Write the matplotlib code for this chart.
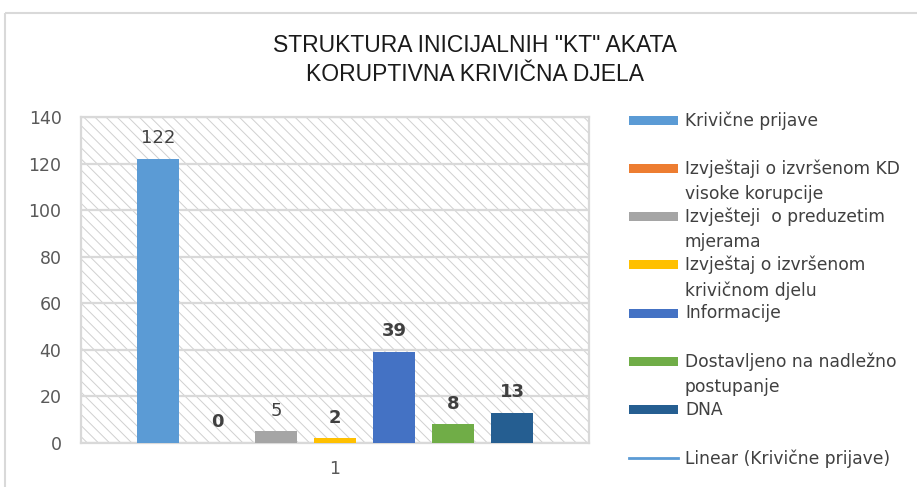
import matplotlib
matplotlib.use("Agg")
import matplotlib.pyplot as plt
from matplotlib.patches import Rectangle
from matplotlib.lines import Line2D

# podaci
serije = ["Krivične prijave",
          "Izvještaji o izvršenom KD\nvisoke korupcije",
          "Izvješteji  o preduzetim\nmjerama",
          "Izvještaj o izvršenom\nkrivičnom djelu",
          "Informacije",
          "Dostavljeno na nadležno\npostupanje",
          "DNA"]
vrijednosti = [122, 0, 5, 2, 39, 8, 13]
boje = ["#5B9BD5", "#ED7D31", "#A5A5A5", "#FFC000", "#4472C4", "#70AD47", "#255E91"]
bold_labele = [False, True, False, True, True, True, True]
trend_label = "Linear (Krivične prijave)"
kategorija = ["1"]
y_ticks = [0, 20, 40, 60, 80, 100, 120, 140]
naslov = 'STRUKTURA INICIJALNIH "KT" AKATA\nKORUPTIVNA KRIVIČNA DJELA'

plt.rcParams["hatch.linewidth"] = 0.7

W, H = 917, 487
fig = plt.figure(figsize=(W / 100, H / 100), dpi=100)

# okvir cijelog grafikona
bg = fig.add_axes([0, 0, 1, 1])
bg.set_xlim(0, W)
bg.set_ylim(H, 0)
bg.axis("off")
bg.add_patch(Rectangle((5, 13), W, H, fill=False, edgecolor="#D9D9D9", lw=1.5))

# naslov
bg.text(475, 60, naslov, ha="center", va="center", fontsize=16.5,
        family=["Liberation Sans", "DejaVu Sans"], color="#1a1a1a",
        linespacing=1.32)

# plot area
x0, x1, ytop, ybot = 81, 589, 117, 443
ax = fig.add_axes([x0 / W, 1 - ybot / H, (x1 - x0) / W, (ybot - ytop) / H])
ax.set_facecolor("white")
ax.add_patch(Rectangle((0, 0), 1, 1, transform=ax.transAxes, facecolor="white",
                       edgecolor="#D0D0D0", hatch="\\\\\\", lw=0, zorder=0))
ax.set_xlim(0.5, 1.5)
ax.set_ylim(0, 140)
ax.set_yticks(y_ticks)
ax.set_xticks([1])
ax.set_xticklabels(kategorija)
ax.grid(axis="y", color="#D9D9D9", lw=1.6, zorder=1)
ax.set_axisbelow(True)
for s in ax.spines.values():
    s.set_color("#D9D9D9")
    s.set_linewidth(1.6)
ax.tick_params(length=0, colors="#595959", labelsize=12.5)
ax.tick_params(axis="y", pad=14)
ax.tick_params(axis="x", pad=12)

korak = 59 / (x1 - x0)
sirina = 42 / (x1 - x0)
n = len(vrijednosti)
for i, (v, c, b) in enumerate(zip(vrijednosti, boje, bold_labele)):
    xc = 1 + (i - (n - 1) / 2) * korak
    ax.bar(xc, v, width=sirina, color=c, zorder=3)
    ax.annotate(str(v), (xc, v), xytext=(0, 15), textcoords="offset points",
                ha="center", va="center", fontsize=13,
                fontweight="bold" if b else "normal", color="#404040")

# legenda
ly0, lstep = 120, 48.3
for i, (s, c) in enumerate(zip(serije + [trend_label], boje + ["#5B9BD5"])):
    y = ly0 + i * lstep
    if i < n:
        bg.add_patch(Rectangle((629, y - 4.5), 49, 9, facecolor=c, edgecolor="none"))
    else:
        bg.add_line(Line2D([629, 678], [y, y], color=c, lw=2))
    bg.text(685, y - 9, s, ha="left", va="top", fontsize=12.3, color="#404040",
            linespacing=1.5)

fig.savefig("out.png", dpi=100)
